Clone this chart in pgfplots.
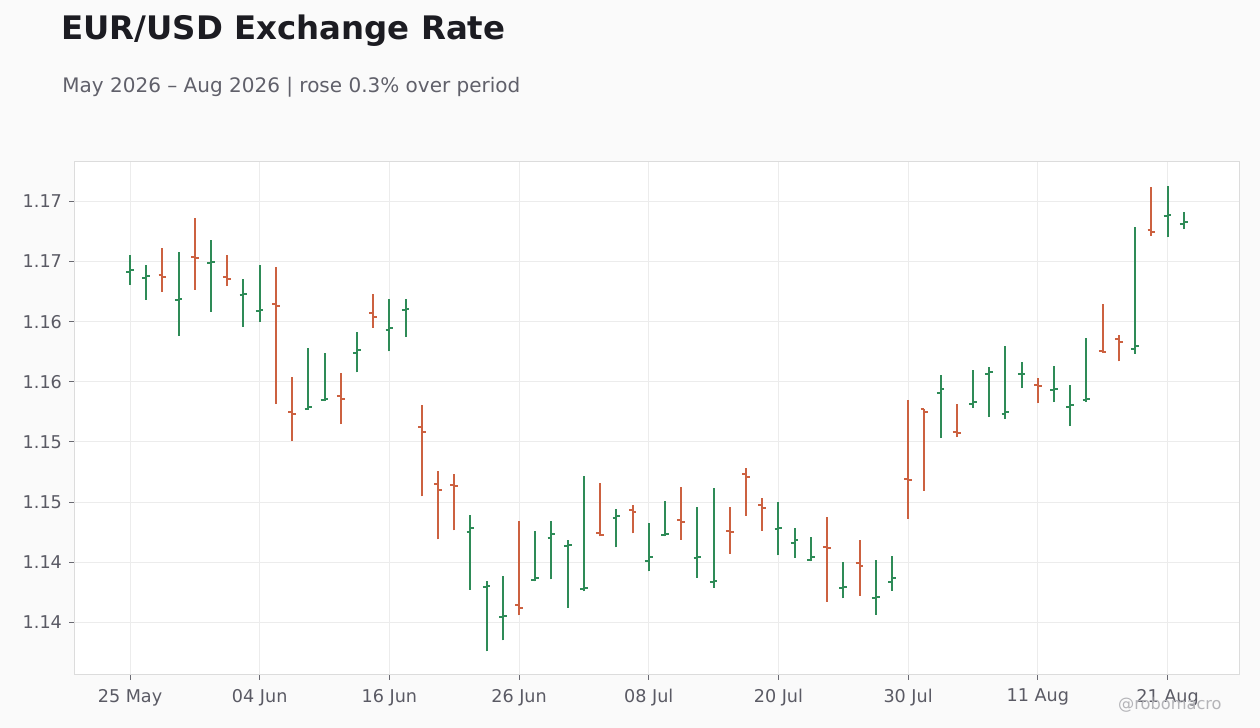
\documentclass[border=0pt]{standalone}
\usepackage{pgfplots}
\pgfplotsset{compat=1.18}
\usepackage{pgfplotstable}
\usepackage{fontspec}
\setmainfont{DejaVu Sans}

\definecolor{upcol}{HTML}{2E8B57}
\definecolor{downcol}{HTML}{CC6140}
\definecolor{bgcol}{HTML}{FAFAFA}
\definecolor{titlecol}{HTML}{1C1C22}
\definecolor{subcol}{HTML}{60606A}
\definecolor{labelcol}{HTML}{5A5A64}
\definecolor{framecol}{HTML}{DCDCDC}
\definecolor{gridcol}{HTML}{ECECEC}
\definecolor{tickcol}{HTML}{6A6A72}
\definecolor{markcol}{HTML}{B4B4B8}

% open tick to the left of the bar, close tick to the right
\pgfdeclareplotmark{openTick}{%
  \pgfpathmoveto{\pgfqpoint{-\pgfplotmarksize}{0pt}}%
  \pgfpathlineto{\pgfqpoint{0pt}{0pt}}%
  \pgfusepathqstroke}
\pgfdeclareplotmark{closeTick}{%
  \pgfpathmoveto{\pgfqpoint{0pt}{0pt}}%
  \pgfpathlineto{\pgfqpoint{\pgfplotmarksize}{0pt}}%
  \pgfusepathqstroke}

% trading day index, open, high, low, close
\pgfplotstableread{
i o h l c
0 1.16414 1.16550 1.16308 1.16431
1 1.16364 1.16467 1.16181 1.16381
3 1.16178 1.16578 1.15881 1.16189
5 1.16486 1.16678 1.16081 1.16497
7 1.16219 1.16358 1.15956 1.16231
8 1.16092 1.16467 1.15997 1.16100
11 1.15275 1.15783 1.15267 1.15289
12 1.15350 1.15742 1.15339 1.15358
14 1.15736 1.15917 1.15578 1.15761
16 1.15928 1.16186 1.15753 1.15947
17 1.16094 1.16186 1.15872 1.16105
21 1.14254 1.14395 1.13772 1.14281
22 1.13796 1.13846 1.13259 1.13800
23 1.13542 1.13888 1.13350 1.13550
25 1.13849 1.14262 1.13841 1.13866
26 1.14198 1.14345 1.13857 1.14231
27 1.14132 1.14184 1.13622 1.14140
28 1.13777 1.14716 1.13758 1.13782
30 1.14364 1.14442 1.14123 1.14381
32 1.14013 1.14326 1.13924 1.14046
33 1.14223 1.14511 1.14215 1.14231
35 1.14037 1.14461 1.13871 1.14046
36 1.13838 1.14619 1.13788 1.13846
40 1.14276 1.14503 1.14057 1.14281
41 1.14162 1.14287 1.14037 1.14187
42 1.14021 1.14212 1.14007 1.14046
44 1.13783 1.14004 1.13700 1.13791
46 1.13705 1.14021 1.13564 1.13713
47 1.13838 1.14054 1.13763 1.13871
50 1.15403 1.15553 1.15031 1.15439
52 1.15319 1.15594 1.15281 1.15331
53 1.15567 1.15619 1.15206 1.15581
54 1.15231 1.15794 1.15189 1.15247
55 1.15562 1.15661 1.15447 1.15566
57 1.15434 1.15628 1.15331 1.15440
58 1.15289 1.15469 1.15131 1.15306
59 1.15347 1.15861 1.15331 1.15356
62 1.15769 1.16786 1.15731 1.15794
64 1.16878 1.17128 1.16703 1.16889
65 1.16814 1.16911 1.16769 1.16828
}\upbars

\pgfplotstableread{
i o h l c
2 1.16386 1.16611 1.16247 1.16369
4 1.16539 1.16861 1.16264 1.16530
6 1.16367 1.16550 1.16294 1.16358
9 1.16147 1.16458 1.15314 1.16128
10 1.15247 1.15542 1.15006 1.15228
13 1.15378 1.15575 1.15147 1.15356
15 1.16072 1.16228 1.15947 1.16039
18 1.15121 1.15309 1.14547 1.15079
19 1.14647 1.14760 1.14190 1.14597
20 1.14644 1.14735 1.14265 1.14636
24 1.13641 1.14345 1.13558 1.13622
29 1.14245 1.14658 1.14215 1.14229
31 1.14431 1.14475 1.14240 1.14420
34 1.14348 1.14627 1.14187 1.14334
37 1.14262 1.14461 1.14071 1.14254
38 1.14735 1.14785 1.14386 1.14711
39 1.14472 1.14536 1.14262 1.14453
43 1.14129 1.14378 1.13672 1.14121
45 1.13996 1.14187 1.13722 1.13971
48 1.14688 1.15347 1.14359 1.14680
49 1.15270 1.15270 1.14593 1.15245
51 1.15081 1.15311 1.15039 1.15072
56 1.15472 1.15528 1.15322 1.15461
60 1.15753 1.16144 1.15739 1.15744
61 1.15853 1.15886 1.15669 1.15828
63 1.16761 1.17119 1.16711 1.16744
}\downbars

\pgfplotsset{
  ohlc/.style={
    draw=none, mark=none, forget plot,
    error bars/.cd, y dir=plus, y explicit, error mark=none,
    error bar style={line width=1pt, draw=#1}},
  ohlctick/.style 2 args={
    only marks, forget plot, mark=#1, mark size=1.9pt,
    mark options={line width=1pt, draw=#2, solid}},
}

% sizes below are in pt, 1 px of the 1260x728 target = 0.5pt
\begin{document}
\begin{tikzpicture}
\fill[bgcol] (0pt,0pt) rectangle (630pt,364pt);
\useasboundingbox (0pt,0pt) rectangle (630pt,364pt);

\node[anchor=base west, inner sep=0pt, text=titlecol,
  font=\bfseries\fontsize{16.2}{19}\selectfont] at (30.5pt,344.2pt) {EUR/USD Exchange Rate};
\node[anchor=base west, inner sep=0pt, text=subcol,
  font=\fontsize{10}{12}\selectfont] at (31pt,317.9pt) {May 2026 – Aug 2026 | rose 0.3\% over period};

\begin{axis}[
    at={(37pt,26.5pt)}, anchor=south west,
    scale only axis, width=582.5pt, height=256.5pt,
    xmin=-3.455, xmax=68.41,
    ymin=1.13062, ymax=1.17327,
    axis background/.style={fill=white},
    axis line style={draw=framecol, line width=0.5pt},
    xtick={0,8,16,24,32,40,48,56,64},
    xticklabels={25 May,04 Jun,16 Jun,26 Jun,08 Jul,20 Jul,30 Jul,11 Aug,21 Aug},
    ytick={1.135,1.14,1.145,1.15,1.155,1.16,1.165,1.17},
    yticklabels={1.14,1.14,1.15,1.15,1.16,1.16,1.17,1.17},
    scaled y ticks=false,
    grid=major,
    major grid style={draw=gridcol, line width=0.5pt},
    tick pos=left, tick align=outside,
    major tick length=2.5pt,
    tick style={draw=tickcol, line width=0.5pt},
    ticklabel style={font=\fontsize{8.8}{10}\selectfont, text=labelcol},
    x tick label style={yshift=-1pt},
  ]
  \addplot[ohlc=upcol] table[x=i, y=l, y error plus expr=\thisrow{h}-\thisrow{l}] {\upbars};
  \addplot[ohlc=downcol] table[x=i, y=l, y error plus expr=\thisrow{h}-\thisrow{l}] {\downbars};
  \addplot[ohlctick={openTick}{upcol}] table[x=i, y=o] {\upbars};
  \addplot[ohlctick={closeTick}{upcol}] table[x=i, y=c] {\upbars};
  \addplot[ohlctick={openTick}{downcol}] table[x=i, y=o] {\downbars};
  \addplot[ohlctick={closeTick}{downcol}] table[x=i, y=c] {\downbars};
\end{axis}

\node[anchor=base east, inner sep=0pt, text=markcol,
  font=\fontsize{8.1}{10}\selectfont] at (611pt,9pt) {@robomacro};
\end{tikzpicture}
\end{document}
